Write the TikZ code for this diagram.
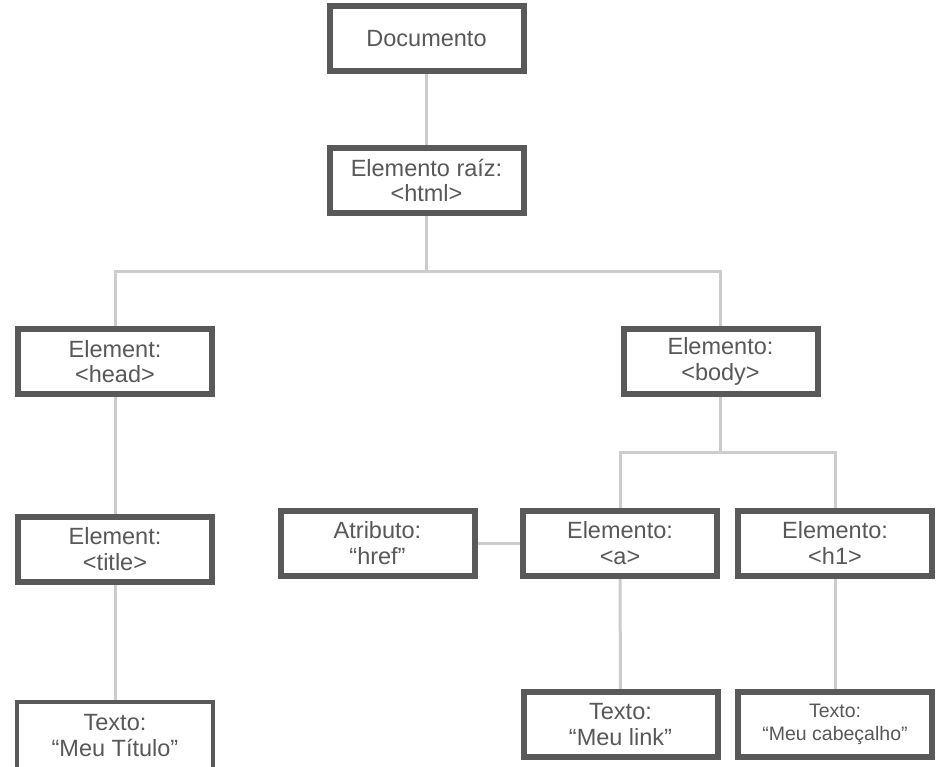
\documentclass[tikz,border=0pt]{standalone}
\usepackage{fontspec}
\setmainfont{Liberation Sans}
\definecolor{boxgray}{HTML}{595959}
\definecolor{txtgray}{HTML}{585858}
\definecolor{linegray}{HTML}{CCCCCC}
\begin{document}
\begin{tikzpicture}[x=1pt,y=-1pt,
  nodebox/.style={draw=boxgray, line width=4pt, fill=white, text=txtgray,
    minimum width=192pt, minimum height=63pt, inner sep=0pt, align=center,
    font=\fontsize{23.5}{25.5}\selectfont},
  smallbox/.style={nodebox, font=\fontsize{19.5}{23}\selectfont},
  openbox/.style={nodebox, draw=none},
  link/.style={draw=linegray, line width=3pt}]
\useasboundingbox (0,0) rectangle (936,767);
\fill[white] (0,0) rectangle (936,767);
% junction coordinates
\coordinate (j1) at (426.5,271);
\coordinate (j2) at (720.5,452);
% nodes
\node[nodebox] (doc) at (426.5,38.5) {Documento};
\node[nodebox] (html) at (426.5,180.5) {Elemento raíz:\\<html>};
\node[nodebox] (head) at (115,361.5) {Element:\\<head>};
\node[nodebox] (body) at (720.5,361.5) {Elemento:\\<body>};
\node[nodebox] (title) at (115,549) {Element:\\<title>};
\node[nodebox] (attr) at (377.5,543) {Atributo:\\“href”};
\node[nodebox] (a) at (620,543) {Elemento:\\<a>};
\node[nodebox] (h1) at (835,543) {Elemento:\\<h1>};
\node[openbox] (t1) at (115,735.5) {Texto:\\“Meu Título”};
\node[nodebox] (t2) at (620.5,724.5) {Texto:\\“Meu link”};
\node[smallbox] (t3) at (835,724.5) {Texto:\\“Meu cabeçalho”};
% connectors
\draw[link] (doc.south) -- (html.north);
\draw[link] (html.south) -- (j1);
\draw[link] (head.north) -- (head.north |- j1) -- (body.north |- j1) -- (body.north);
\draw[link] (head.south) -- (title.north);
\draw[link] (title.south) -- (t1.north);
\draw[link] (body.south) -- (j2);
\draw[link] (a.north) -- (a.north |- j2) -- (h1.north |- j2) -- (h1.north);
\draw[link] (attr.east) -- (a.west);
\draw[link] (a.south) -- (t2.north);
\draw[link] (h1.south) -- (t3.north);
% borders on top
\foreach \n in {doc,html,head,body,title,attr,a,h1,t2,t3}{
  \draw[boxgray, line width=4pt] (\n.south west) rectangle (\n.north east);
}
% bottom-left box runs past the lower edge
\draw[boxgray, line width=4pt] ([yshift=-12pt]t1.south west) -- (t1.north west) -- (t1.north east) -- ([yshift=-12pt]t1.south east);
\end{tikzpicture}
\end{document}
